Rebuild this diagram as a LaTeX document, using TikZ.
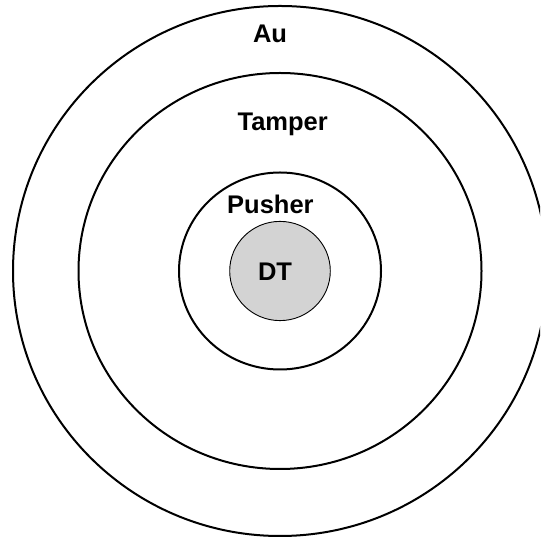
\documentclass[tikz,border=0pt]{standalone}
\usepackage{fontspec}
\setmainfont{Liberation Sans}
\begin{document}
\begin{tikzpicture}[x=1pt,y=1pt,
  ring/.style={draw=black,line width=2pt},
  core/.style={draw=black,line width=0.9pt,fill=coreGray},
  lbl/.style={anchor=base,inner sep=0pt,font=\fontsize{25.5}{30}\selectfont\bfseries}]
\definecolor{coreGray}{HTML}{D3D3D3}
\useasboundingbox (0,0) rectangle (540,548);
\clip (0,0) rectangle (540,548);
\coordinate (c) at (280,277);
\draw[ring] (c) ellipse [x radius=267,y radius=265];
\draw[ring] (c) ellipse [x radius=201.5,y radius=198];
\draw[ring] (c) ellipse [x radius=101,y radius=98.5];
\draw[core] (c) ellipse [x radius=50.3,y radius=49.6];
\node[lbl] (au) at (270,505.6) {Au};
\node[lbl] (tamper) at (282.7,417) {Tamper};
\node[lbl] (pusher) at (270.4,334.5) {Pusher};
\node[lbl] (dt) at (275,267.4) {DT};
\end{tikzpicture}
\end{document}
